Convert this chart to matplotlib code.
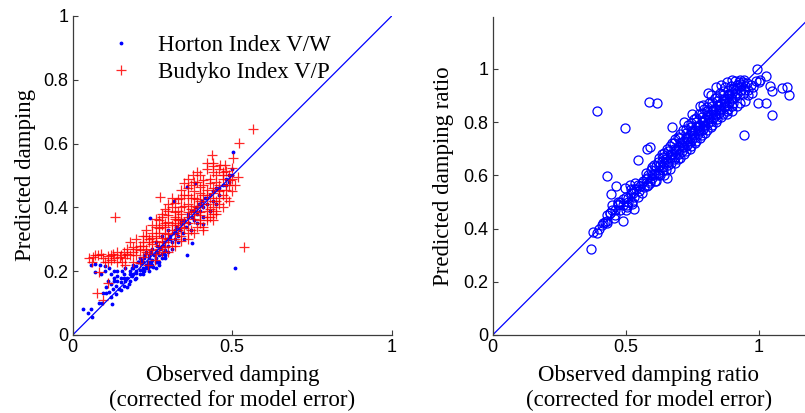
import numpy as np
import matplotlib
matplotlib.use('Agg')
import matplotlib.pyplot as plt

# Horton index V/W: observed vs predicted damping
horton_obs = [0.033, 0.049, 0.056, 0.059, 0.083, 0.093, 0.096, 0.103, 0.124, 0.056,
              0.071, 0.086, 0.070, 0.100, 0.115, 0.120, 0.130, 0.140, 0.150, 0.160,
              0.135, 0.145, 0.125, 0.115, 0.170, 0.175, 0.155, 0.165, 0.180, 0.185,
              0.190, 0.200, 0.200, 0.210, 0.215, 0.220, 0.225, 0.230, 0.235, 0.240,
              0.245, 0.250, 0.255, 0.260, 0.265, 0.270, 0.275, 0.280, 0.285, 0.290,
              0.295, 0.300, 0.305, 0.310, 0.315, 0.320, 0.325, 0.330, 0.335, 0.340,
              0.345, 0.350, 0.355, 0.360, 0.365, 0.370, 0.375, 0.380, 0.385, 0.390,
              0.395, 0.400, 0.405, 0.410, 0.415, 0.420, 0.430, 0.440, 0.450, 0.460,
              0.470, 0.480, 0.490, 0.500, 0.503, 0.510, 0.357, 0.383, 0.318, 0.242,
              0.359, 0.373, 0.410, 0.253, 0.300, 0.280, 0.260, 0.250, 0.230, 0.210,
              0.190, 0.270, 0.290, 0.310, 0.330, 0.350, 0.370, 0.390, 0.410, 0.430,
              0.450, 0.220, 0.240, 0.260, 0.200, 0.180, 0.160, 0.140, 0.100, 0.090,
              0.215, 0.235, 0.225, 0.245, 0.205, 0.195, 0.265, 0.285,
              0.120, 0.130, 0.140, 0.150, 0.160, 0.170, 0.180, 0.190, 0.200, 0.210,
              0.220, 0.230, 0.240, 0.250, 0.260, 0.270, 0.280, 0.290, 0.300, 0.220,
              0.240, 0.260, 0.280, 0.300, 0.320, 0.340, 0.360, 0.380, 0.400, 0.420,
              0.440, 0.460, 0.480, 0.490, 0.500, 0.130, 0.110, 0.105, 0.120, 0.135,
              0.150, 0.165, 0.185, 0.205, 0.225, 0.245, 0.265, 0.285, 0.305, 0.325]
horton_pred = [0.080, 0.070, 0.080, 0.057, 0.101, 0.099, 0.133, 0.131, 0.098, 0.220,
               0.222, 0.218, 0.198, 0.215, 0.210, 0.190, 0.170, 0.185, 0.165, 0.155,
               0.155, 0.145, 0.145, 0.135, 0.150, 0.160, 0.200, 0.210, 0.200, 0.185,
               0.220, 0.195, 0.215, 0.205, 0.225, 0.210, 0.240, 0.220, 0.230, 0.250,
               0.215, 0.235, 0.250, 0.240, 0.260, 0.250, 0.270, 0.255, 0.280, 0.265,
               0.300, 0.280, 0.310, 0.290, 0.320, 0.300, 0.340, 0.310, 0.330, 0.350,
               0.320, 0.360, 0.340, 0.380, 0.350, 0.390, 0.370, 0.360, 0.400, 0.380,
               0.410, 0.390, 0.420, 0.400, 0.430, 0.410, 0.440, 0.420, 0.460, 0.440,
               0.470, 0.490, 0.500, 0.520, 0.575, 0.209, 0.465, 0.476, 0.421, 0.366,
               0.251, 0.289, 0.347, 0.214, 0.330, 0.310, 0.290, 0.270, 0.260, 0.240,
               0.210, 0.220, 0.240, 0.270, 0.290, 0.300, 0.330, 0.350, 0.370, 0.390,
               0.410, 0.190, 0.200, 0.210, 0.180, 0.170, 0.180, 0.200, 0.200, 0.190,
               0.235, 0.210, 0.200, 0.230, 0.230, 0.175, 0.230, 0.260,
               0.160, 0.180, 0.170, 0.180, 0.190, 0.180, 0.190, 0.190, 0.200, 0.190,
               0.200, 0.210, 0.220, 0.220, 0.230, 0.230, 0.240, 0.250, 0.260, 0.230,
               0.240, 0.260, 0.280, 0.300, 0.330, 0.360, 0.370, 0.390, 0.410, 0.430,
               0.450, 0.460, 0.470, 0.480, 0.500, 0.200, 0.170, 0.150, 0.120, 0.130,
               0.140, 0.170, 0.210, 0.230, 0.250, 0.260, 0.280, 0.290, 0.300, 0.320]

# Budyko index V/P: observed vs predicted damping
budyko_obs = [0.065, 0.080, 0.096, 0.110, 0.127, 0.148, 0.165, 0.180, 0.200, 0.221,
              0.240, 0.258, 0.060, 0.110, 0.165, 0.235, 0.084, 0.112, 0.075, 0.096,
              0.134, 0.050, 0.140, 0.190, 0.210,
              0.170, 0.190, 0.210, 0.230, 0.250, 0.270, 0.290, 0.310,
              0.200, 0.220, 0.240, 0.260, 0.280, 0.300, 0.320, 0.340, 0.360,
              0.230, 0.250, 0.270, 0.290, 0.310, 0.330, 0.350, 0.370, 0.390, 0.410,
              0.260, 0.280, 0.300, 0.320, 0.340, 0.360, 0.380, 0.400, 0.420, 0.440,
              0.290, 0.310, 0.330, 0.350, 0.370, 0.390, 0.410, 0.430, 0.450,
              0.310, 0.330, 0.350, 0.370, 0.390, 0.410, 0.430, 0.450, 0.470,
              0.340, 0.360, 0.380, 0.400, 0.420, 0.440, 0.460, 0.480,
              0.378, 0.410, 0.430, 0.450, 0.470, 0.493, 0.519, 0.440,
              0.420, 0.441, 0.462, 0.478, 0.503, 0.436, 0.521, 0.564,
              0.274, 0.537, 0.380, 0.400,
              0.160, 0.180, 0.200, 0.220, 0.140, 0.120,
              0.250, 0.270, 0.290, 0.320, 0.340, 0.360, 0.380, 0.400, 0.420, 0.440,
              0.460, 0.480, 0.500, 0.490, 0.460, 0.470,
              0.150, 0.170, 0.190, 0.210, 0.230, 0.250, 0.270, 0.290,
              0.220, 0.240, 0.260, 0.280, 0.300, 0.320, 0.330,
              0.230, 0.250, 0.270, 0.290, 0.310, 0.330, 0.350,
              0.260, 0.280, 0.300, 0.320, 0.340, 0.360, 0.380, 0.400,
              0.280, 0.300, 0.320, 0.340, 0.360, 0.380, 0.400, 0.420, 0.440, 0.460,
              0.300, 0.320, 0.340, 0.360, 0.380, 0.400, 0.420, 0.440, 0.460, 0.480,
              0.350, 0.370, 0.390, 0.410, 0.430, 0.450, 0.470, 0.490, 0.500,
              0.360, 0.390, 0.420, 0.440, 0.460, 0.480, 0.500, 0.510,
              0.400, 0.420, 0.430, 0.450, 0.470, 0.490, 0.440, 0.410, 0.380, 0.360,
              0.340, 0.320,
              0.100, 0.120, 0.130, 0.155, 0.070, 0.090, 0.300, 0.280, 0.260]
budyko_pred = [0.245, 0.250, 0.240, 0.248, 0.255, 0.245, 0.240, 0.250, 0.250, 0.245,
               0.255, 0.235, 0.230, 0.228, 0.220, 0.220, 0.196, 0.162, 0.133, 0.110,
               0.369, 0.240, 0.230, 0.230, 0.225,
               0.270, 0.275, 0.280, 0.270, 0.285, 0.280, 0.275, 0.280,
               0.300, 0.310, 0.300, 0.310, 0.305, 0.315, 0.300, 0.310, 0.300,
               0.330, 0.345, 0.335, 0.340, 0.330, 0.345, 0.335, 0.330, 0.340, 0.330,
               0.365, 0.370, 0.375, 0.365, 0.380, 0.370, 0.365, 0.375, 0.370, 0.360,
               0.395, 0.400, 0.390, 0.405, 0.395, 0.400, 0.410, 0.395, 0.390,
               0.430, 0.425, 0.440, 0.430, 0.425, 0.440, 0.430, 0.420, 0.440,
               0.455, 0.460, 0.450, 0.465, 0.455, 0.460, 0.470, 0.455,
               0.502, 0.485, 0.490, 0.480, 0.490, 0.486, 0.496, 0.510,
               0.538, 0.538, 0.533, 0.533, 0.554, 0.564, 0.603, 0.645,
               0.432, 0.277, 0.480, 0.500,
               0.260, 0.290, 0.270, 0.290, 0.260, 0.250,
               0.320, 0.360, 0.350, 0.350, 0.340, 0.350, 0.380, 0.360, 0.390, 0.400,
               0.410, 0.430, 0.450, 0.470, 0.450, 0.500,
               0.250, 0.255, 0.260, 0.265, 0.260, 0.265, 0.270, 0.290,
               0.280, 0.290, 0.295, 0.290, 0.300, 0.320, 0.330,
               0.310, 0.305, 0.320, 0.320, 0.345, 0.360, 0.355,
               0.340, 0.345, 0.355, 0.370, 0.365, 0.385, 0.390, 0.385,
               0.380, 0.390, 0.385, 0.400, 0.410, 0.405, 0.420, 0.410, 0.420, 0.430,
               0.410, 0.415, 0.430, 0.440, 0.430, 0.445, 0.440, 0.445, 0.455, 0.470,
               0.475, 0.470, 0.480, 0.470, 0.475, 0.500, 0.510, 0.500, 0.490,
               0.490, 0.510, 0.520, 0.530, 0.520, 0.515, 0.525, 0.470,
               0.350, 0.360, 0.370, 0.380, 0.400, 0.420, 0.380, 0.340, 0.320, 0.320,
               0.295, 0.280,
               0.230, 0.235, 0.240, 0.230, 0.250, 0.255, 0.260, 0.260, 0.255]

# damping ratio: observed vs predicted
ratio_obs = [0.391, 0.586, 0.617, 0.496, 0.674, 0.431, 0.464, 0.444, 0.654, 0.547,
             0.581, 0.591, 0.491, 0.371, 0.376, 0.391, 0.410, 0.422, 0.428, 0.416,
             0.441, 0.470, 0.480, 0.531, 0.945, 0.992, 1.027, 1.000, 1.005, 1.043,
             1.049, 1.086, 1.105, 1.115, 0.999, 1.027, 1.049,
             0.472, 0.504, 0.522, 0.510, 0.529, 0.497, 0.516, 0.450, 0.460, 0.470,
             0.480, 0.490, 0.455, 0.440, 0.430, 0.450,
             0.500, 0.505, 0.520, 0.525, 0.540, 0.545, 0.535, 0.555, 0.560, 0.565,
             0.575, 0.580, 0.585, 0.590, 0.595, 0.600, 0.605, 0.610,
             0.615, 0.620, 0.625, 0.630, 0.620, 0.635, 0.640, 0.645, 0.650, 0.640,
             0.655, 0.660, 0.665, 0.670, 0.660, 0.675, 0.680, 0.685, 0.690, 0.695,
             0.680, 0.700, 0.705, 0.710, 0.715, 0.720, 0.700, 0.720,
             0.725, 0.730, 0.735, 0.740, 0.725, 0.740, 0.745, 0.750, 0.755, 0.760,
             0.745, 0.760, 0.765, 0.770, 0.775, 0.780, 0.765, 0.780,
             0.785, 0.790, 0.795, 0.800, 0.785, 0.800, 0.805, 0.810, 0.815, 0.820,
             0.805, 0.820, 0.825, 0.830, 0.835, 0.840, 0.825, 0.840,
             0.845, 0.850, 0.855, 0.860, 0.845, 0.860, 0.865, 0.870, 0.875, 0.880,
             0.865, 0.880, 0.885, 0.890, 0.895, 0.900, 0.885, 0.900,
             0.905, 0.910, 0.915, 0.920, 0.925, 0.930, 0.935, 0.940, 0.950, 0.955,
             0.960, 0.970, 0.975, 0.980, 0.960, 0.990,
             0.720, 0.750, 0.780, 0.792, 0.810, 0.820, 0.840, 0.860, 0.880, 0.900,
             0.910, 0.930, 0.880, 0.900, 0.920, 0.950, 0.930,
             0.550, 0.560, 0.545, 0.570, 0.580, 0.575, 0.590, 0.600, 0.585,
             0.610, 0.605, 0.620, 0.615, 0.600, 0.630, 0.625, 0.640, 0.645, 0.635,
             0.650, 0.645, 0.660, 0.665, 0.655, 0.670, 0.665, 0.680, 0.685, 0.675,
             0.690, 0.690, 0.685, 0.700, 0.705, 0.695, 0.710, 0.710, 0.705, 0.720,
             0.725, 0.715, 0.730, 0.730, 0.725, 0.740, 0.745, 0.735, 0.750, 0.750,
             0.745, 0.760, 0.765, 0.755, 0.770, 0.770, 0.765, 0.780, 0.785, 0.775,
             0.790, 0.790, 0.785, 0.800, 0.805, 0.795, 0.810, 0.810, 0.805, 0.820,
             0.825, 0.815, 0.830, 0.830, 0.825, 0.840, 0.845, 0.835, 0.850, 0.850,
             0.845, 0.860, 0.865, 0.855, 0.870, 0.870, 0.865, 0.880, 0.885, 0.875,
             0.890, 0.890, 0.895, 0.900, 0.905, 0.910, 0.920, 0.925, 0.935, 0.940,
             0.945, 0.950, 0.400, 0.430, 0.460, 0.490, 0.500, 0.510, 0.530, 0.530,
             0.520]
ratio_pred = [0.842, 0.875, 0.871, 0.779, 0.783, 0.598, 0.560, 0.529, 0.589, 0.658,
              0.698, 0.708, 0.430, 0.322, 0.388, 0.385, 0.414, 0.426, 0.420, 0.420,
              0.457, 0.490, 0.500, 0.473, 0.752, 0.999, 0.974, 0.950, 0.960, 0.934,
              0.915, 0.927, 0.930, 0.902, 0.871, 0.871, 0.827,
              0.492, 0.482, 0.492, 0.514, 0.533, 0.551, 0.564, 0.470, 0.450, 0.500,
              0.470, 0.510, 0.440, 0.460, 0.450, 0.490,
              0.520, 0.490, 0.535, 0.500, 0.550, 0.520, 0.570, 0.560, 0.535, 0.580,
              0.585, 0.560, 0.600, 0.570, 0.620, 0.590, 0.605, 0.580,
              0.635, 0.610, 0.620, 0.600, 0.650, 0.655, 0.630, 0.645, 0.620, 0.670,
              0.675, 0.650, 0.665, 0.645, 0.690, 0.680, 0.700, 0.670, 0.685, 0.660,
              0.720, 0.705, 0.720, 0.690, 0.705, 0.680, 0.740, 0.730,
              0.745, 0.715, 0.730, 0.700, 0.760, 0.750, 0.765, 0.735, 0.750, 0.720,
              0.780, 0.770, 0.785, 0.755, 0.770, 0.740, 0.800, 0.790,
              0.805, 0.775, 0.790, 0.760, 0.820, 0.810, 0.825, 0.795, 0.810, 0.780,
              0.840, 0.830, 0.845, 0.815, 0.830, 0.800, 0.860, 0.850,
              0.865, 0.835, 0.850, 0.820, 0.880, 0.870, 0.885, 0.855, 0.870, 0.840,
              0.900, 0.890, 0.905, 0.875, 0.890, 0.860, 0.920, 0.910,
              0.925, 0.895, 0.910, 0.940, 0.930, 0.945, 0.920, 0.950, 0.935, 0.946,
              0.920, 0.940, 0.910, 0.930, 0.900, 0.955,
              0.800, 0.830, 0.860, 0.865, 0.909, 0.900, 0.930, 0.940, 0.950, 0.960,
              0.955, 0.960, 0.830, 0.840, 0.860, 0.880, 0.870,
              0.540, 0.570, 0.565, 0.555, 0.590, 0.610, 0.580, 0.600, 0.565,
              0.620, 0.640, 0.600, 0.580, 0.630, 0.640, 0.665, 0.620, 0.600, 0.680,
              0.660, 0.685, 0.640, 0.625, 0.700, 0.680, 0.710, 0.660, 0.645, 0.720,
              0.695, 0.700, 0.735, 0.680, 0.665, 0.745, 0.715, 0.725, 0.755, 0.705,
              0.690, 0.770, 0.735, 0.745, 0.775, 0.725, 0.710, 0.790, 0.760, 0.765,
              0.795, 0.745, 0.730, 0.810, 0.780, 0.785, 0.815, 0.765, 0.750, 0.830,
              0.800, 0.805, 0.835, 0.785, 0.770, 0.850, 0.820, 0.825, 0.855, 0.805,
              0.790, 0.870, 0.840, 0.845, 0.875, 0.825, 0.810, 0.890, 0.860, 0.865,
              0.895, 0.845, 0.830, 0.910, 0.880, 0.885, 0.915, 0.865, 0.850, 0.930,
              0.900, 0.905, 0.935, 0.885, 0.870, 0.920, 0.905, 0.950, 0.935, 0.905,
              0.960, 0.920, 0.400, 0.430, 0.470, 0.490, 0.470, 0.500, 0.520, 0.550,
              0.550]

serif = 'Liberation Serif'
sans = 'Liberation Sans'
label_size = 16.5
tick_size = 13

fig = plt.figure(figsize=(8.05, 4.13), dpi=100)
ax1 = fig.add_axes([0.0903, 0.1889, 0.3963, 0.7724])
ax2 = fig.add_axes([0.6120, 0.1889, 0.3880, 0.7700])


def style_axes(ax):
    for side in ['top', 'right']:
        ax.spines[side].set_visible(False)
    for side in ['left', 'bottom']:
        ax.spines[side].set_color('#3c3c3c')
        ax.spines[side].set_linewidth(0.9)
    ax.tick_params(direction='in', length=3.5, width=0.8, color='#3c3c3c',
                   labelsize=tick_size, pad=3)
    for lab in ax.get_xticklabels() + ax.get_yticklabels():
        lab.set_fontfamily(sans)


# left panel
ax1.plot(horton_obs, horton_pred, '.', color='blue', markersize=3.5,
         label='Horton Index V/W')
ax1.plot(budyko_obs, budyko_pred, '+', color='red', markersize=7.5,
         markeredgewidth=0.9, alpha=0.85, label='Budyko Index V/P')
ax1.plot([0, 1], [0, 1], '-', color='blue', linewidth=0.9)
ax1.set_xlim(0, 1)
ax1.set_ylim(0, 1)
ax1.set_xticks([0, 0.5, 1])
ax1.set_xticklabels(['0', '0.5', '1'])
ax1.set_yticks([0, 0.2, 0.4, 0.6, 0.8, 1])
ax1.set_yticklabels(['0', '0.2', '0.4', '0.6', '0.8', '1'])
style_axes(ax1)
ax1.set_xlabel('Observed damping\n(corrected for model error)',
               fontfamily=serif, fontsize=label_size, linespacing=1.2, labelpad=6.5)
ax1.set_ylabel('Predicted damping', fontfamily=serif, fontsize=label_size,
               labelpad=5.5)
leg = ax1.legend(loc='upper left', bbox_to_anchor=(0.072, 0.985), frameon=False,
                 prop={'family': serif, 'size': label_size}, handlelength=1.0,
                 handletextpad=1.1, labelspacing=0.28, borderaxespad=0.2)

# right panel
ax2.plot(ratio_obs, ratio_pred, 'o', markerfacecolor='none',
         markeredgecolor='blue', markersize=6.5, markeredgewidth=0.9)
ax2.plot([0, 1.2], [0, 1.2], '-', color='blue', linewidth=0.9)
ax2.set_xlim(0, 1.174)
ax2.set_ylim(0, 1.195)
ax2.set_xticks([0, 0.5, 1])
ax2.set_xticklabels(['0', '0.5', '1'])
ax2.set_yticks([0, 0.2, 0.4, 0.6, 0.8, 1])
ax2.set_yticklabels(['0', '0.2', '0.4', '0.6', '0.8', '1'])
style_axes(ax2)
ax2.set_xlabel('Observed damping ratio\n(corrected for model error)',
               fontfamily=serif, fontsize=label_size, linespacing=1.2, labelpad=6.5)
ax2.set_ylabel('Predicted damping ratio', fontfamily=serif,
               fontsize=label_size, labelpad=7)

fig.savefig('out.png', dpi=100)
